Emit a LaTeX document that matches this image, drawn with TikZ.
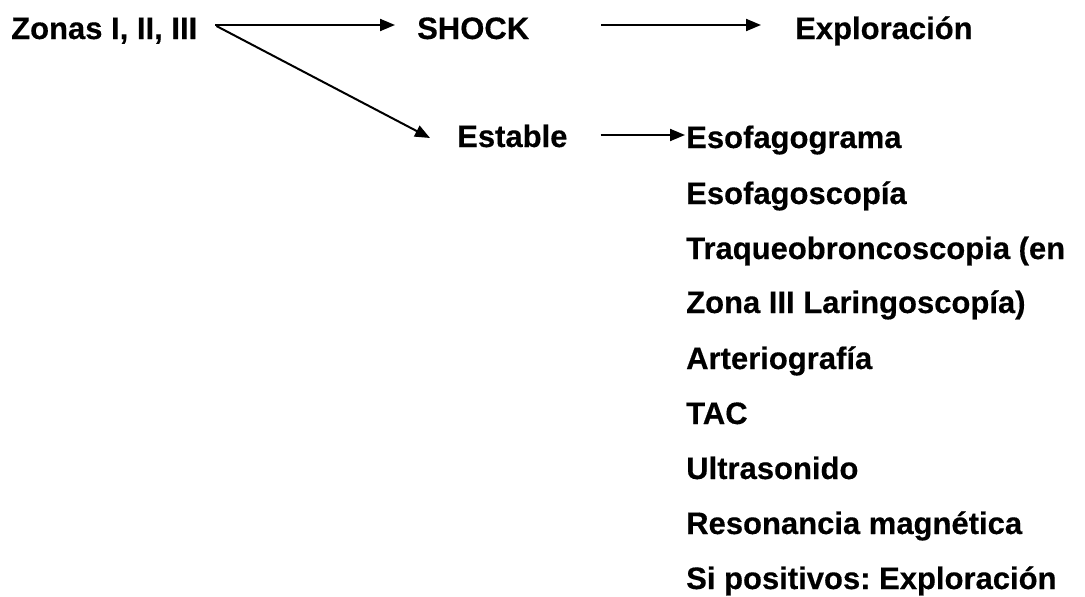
\documentclass[tikz,border=0pt]{standalone}
\usepackage{fontspec}
\setmainfont{Liberation Sans}[BoldFeatures={FakeBold=0.4}]
\usetikzlibrary{arrows.meta}
\frenchspacing
\tikzset{
  lbl/.style={anchor=base west, inner sep=0pt, font=\bfseries\fontsize{31}{36}\selectfont},
  arr/.style={line width=2pt, -{Triangle[length=15pt,width=12pt]}}
}
\begin{document}
\begin{tikzpicture}[x=1pt,y=-1pt]
  \useasboundingbox[fill=white] (0,0) rectangle (1085,597);
  % first level
  \node[lbl] (zonas) at (11,39) {Zonas I, II, III};
  \node[lbl] (shock) at (417,39) {SHOCK};
  \node[lbl] (explo) at (795,39) {Exploración};
  \node[lbl] (estable) at (457,147) {Estable};
  % studies for the stable patient
  \node[lbl] (l1) at (686,148) {Esofagograma};
  \node[lbl] (l2) at (686,204) {Esofagoscopía};
  \node[lbl] (l3) at (686,259) {Traqueobroncoscopia (en};
  \node[lbl] (l4) at (686,313) {Zona III Laringoscopía)};
  \node[lbl] (l5) at (686,369) {Arteriografía};
  \node[lbl] (l6) at (686,424) {TAC};
  \node[lbl] (l7) at (686,479) {Ultrasonido};
  \node[lbl] (l8) at (686,534) {Resonancia magnética};
  \node[lbl] (l9) at (686,589) {Si positivos: Exploración};
  % connectors
  \draw[arr] ([xshift=18pt,yshift=14pt]zonas.base east) -- ([xshift=-22pt,yshift=14pt]shock.base west);
  \draw[arr] ([xshift=19pt,yshift=13pt]zonas.base east) -- ([xshift=-27pt,yshift=9pt]estable.base west);
  \draw[arr] ([xshift=72pt,yshift=14pt]shock.base east) -- ([xshift=-34pt,yshift=14pt]explo.base west);
  \draw[arr] ([xshift=33pt,yshift=12pt]estable.base east) -- ([xshift=-1pt,yshift=13pt]l1.base west);
\end{tikzpicture}
\end{document}
